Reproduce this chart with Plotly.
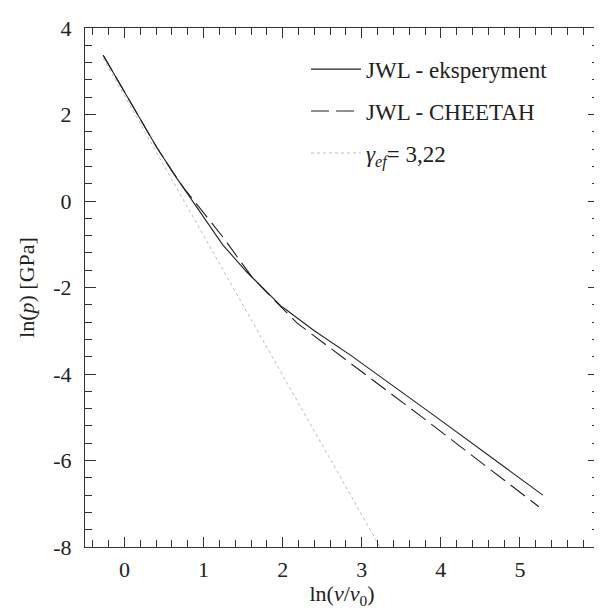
import plotly.graph_objects as go

# Data
exp_x = [-0.27, -0.05, 0.16, 0.41, 0.66, 0.95, 1.24, 1.54, 1.79, 1.98, 2.04, 2.4, 2.87, 3.93, 5.29]
exp_y = [3.37, 2.68, 2.02, 1.23, 0.53, -0.24, -1.01, -1.63, -2.09, -2.43, -2.51, -3.0, -3.58, -4.98, -6.8]

chee_x = [-0.27, -0.05, 0.16, 0.41, 0.62, 0.75, 0.89, 1.25, 1.62, 1.79, 2.18, 3.75, 5.24]
chee_y = [3.37, 2.68, 2.02, 1.23, 0.64, 0.3, -0.02, -0.85, -1.78, -2.09, -2.82, -4.98, -7.07]

gam_x = [-0.27, 3.23]
gam_y = [3.3, -8.0]

x_tickvals = [0, 1, 2, 3, 4, 5, 6]
x_ticktext = ["0", "1", "2", "3", "4", "5", "6"]
y_tickvals = [4, 2, 0, -2, -4, -6, -8]
y_ticktext = ["4", "2", "0", "-2", "-4", "-6", "-8"]

names = ["JWL - eksperyment", "JWL - CHEETAH", "<i>γ</i><sub><i>ef</i></sub>= 3,22"]

FONT = "Liberation Serif, DejaVu Serif, serif"
AX = "#333333"
TXT = "#222222"

fig = go.Figure()
fig.add_trace(go.Scatter(x=exp_x, y=exp_y, mode="lines", name=names[0],
                         line=dict(color="#222222", width=1.1), legendgroup="a"))
fig.add_trace(go.Scatter(x=chee_x, y=chee_y, mode="lines", name=names[1],
                         line=dict(color="#222222", width=1.1, dash="18px,7px"), legendgroup="b"))
fig.add_trace(go.Scatter(x=gam_x, y=gam_y, mode="lines", name=names[2],
                         line=dict(color="#bbbbbb", width=1, dash="dot"), legendgroup="c"))
# invisible helper trace to activate top/right tick axes
fig.add_trace(go.Scatter(x=exp_x, y=exp_y, mode="lines", xaxis="x2", yaxis="y2",
                         line=dict(color="rgba(0,0,0,0)", width=0), showlegend=False, hoverinfo="skip"))

tick_common = dict(ticks="inside", tickcolor=AX, tickwidth=1.2, showgrid=False, zeroline=False)
lab_font = dict(family=FONT, size=22, color=TXT)

fig.update_layout(
    width=602, height=611,
    margin=dict(l=77, r=5, t=20, b=72),
    plot_bgcolor="white", paper_bgcolor="white",
    font=dict(family=FONT, size=22, color=TXT),
    showlegend=True,
    xaxis=dict(range=[-0.5, 6], tickvals=x_tickvals, ticktext=x_ticktext, ticklen=10,
               showline=True, linecolor=AX, linewidth=1.2, mirror=True,
               minor=dict(dtick=0.2, tick0=0, ticks="inside", ticklen=7, tickcolor=AX, tickwidth=1.2),
               title=dict(text="ln(<i>ν</i>/<i>ν</i><sub>0</sub>)", font=lab_font, standoff=4),
               tickfont=lab_font, ticklabelstandoff=2, ticklabeloverflow="allow", **tick_common),
    yaxis=dict(range=[-8, 4], tickvals=y_tickvals, ticktext=y_ticktext, ticklen=11,
               showline=True, linecolor=AX, linewidth=1.2, mirror=True,
               minor=dict(dtick=0.4, tick0=0, ticks="inside", ticklen=7, tickcolor=AX, tickwidth=1.2),
               title=dict(text="ln(<i>p</i>) [GPa]", font=lab_font, standoff=12),
               tickfont=lab_font, ticklabelstandoff=8, ticklabeloverflow="allow", **tick_common),
    xaxis2=dict(range=[-0.5, 6], overlaying="x", side="top", tickvals=x_tickvals, ticklen=10,
                showticklabels=False, showline=False,
                minor=dict(dtick=0.2, tick0=0, ticks="inside", ticklen=7, tickcolor=AX, tickwidth=1.2),
                **tick_common),
    yaxis2=dict(range=[-8, 4], overlaying="y", side="right", tickvals=y_tickvals, ticklen=11,
                showticklabels=False, showline=False,
                minor=dict(dtick=0.4, tick0=0, ticks="inside", ticklen=7, tickcolor=AX, tickwidth=1.2),
                **tick_common),
    legend=dict(x=0.43, y=0.962, xanchor="left", yanchor="top",
                bgcolor="rgba(0,0,0,0)", borderwidth=0,
                font=dict(family=FONT, size=23, color=TXT),
                traceorder="grouped", tracegroupgap=9, itemwidth=50),
)

fig.write_html("out.html")
